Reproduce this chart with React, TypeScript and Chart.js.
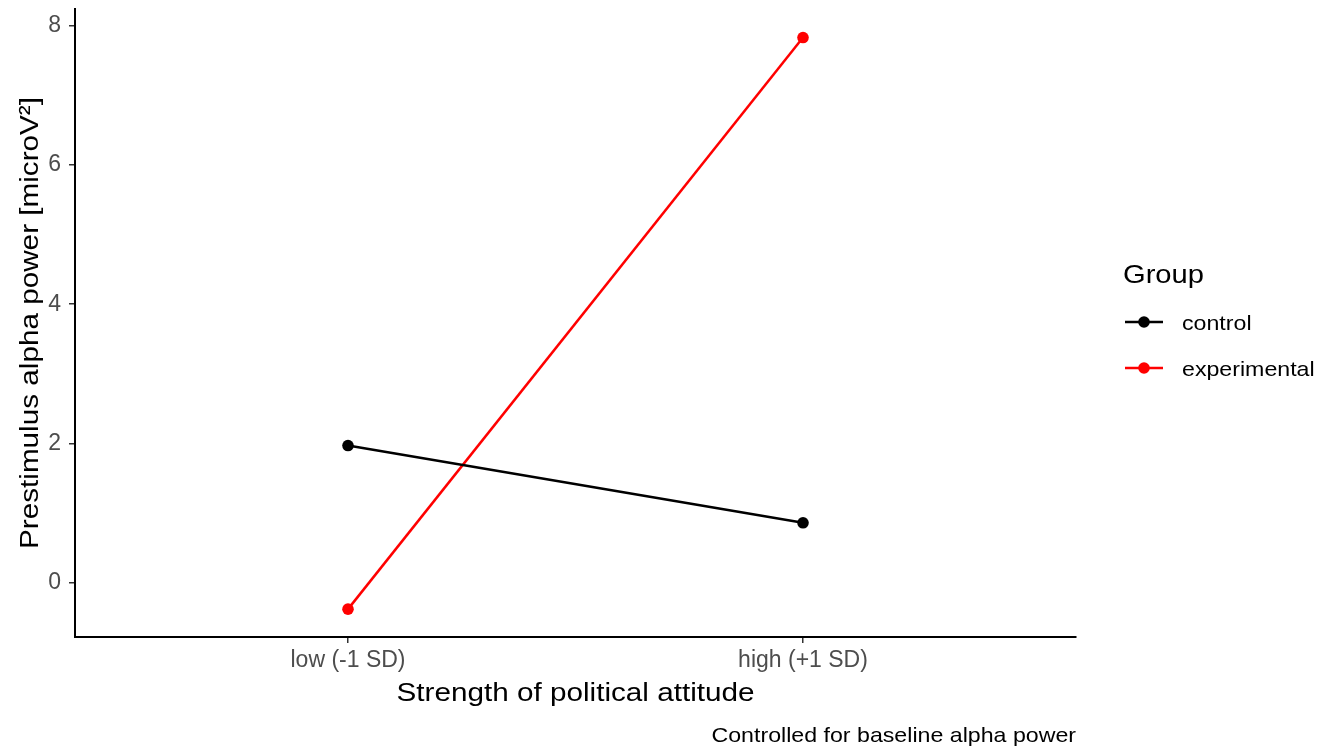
import React, { useEffect, useRef } from "react";
import { Chart, registerables } from "chart.js";

Chart.register(...registerables);

const categories = ["low (-1 SD)", "high (+1 SD)"];
const categoryPositions = [1, 2];
const controlValues = [1.97, 0.86];
const experimentalValues = [-0.38, 7.83];
const yTicks = [0, 2, 4, 6, 8];
const seriesNames = ["control", "experimental"];
const seriesColors = ["#000000", "#FF0000"];
const legendTitle = "Group";
const xTitle = "Strength of political attitude";
const yTitle = "Prestimulus alpha power [microV²]";
const caption = "Controlled for baseline alpha power";

const FONT = "'Liberation Sans', Arial, sans-serif";
const K = 1.12;

function drawText(
  ctx: CanvasRenderingContext2D,
  text: string,
  x: number,
  y: number,
  size: number,
  align: CanvasTextAlign,
  color: string,
  rotate = 0
) {
  ctx.save();
  ctx.translate(x, y);
  if (rotate) ctx.rotate(rotate);
  ctx.scale(K, 1);
  ctx.font = `${size}px ${FONT}`;
  ctx.fillStyle = color;
  ctx.textAlign = align;
  ctx.textBaseline = "alphabetic";
  ctx.fillText(text, 0, 0);
  ctx.restore();
}

const annotations = {
  id: "annotations",
  afterDraw(chart: any) {
    const ctx = chart.ctx as CanvasRenderingContext2D;
    const area = chart.chartArea;
    const cx = (area.left + area.right) / 2;
    const cy = (area.top + area.bottom) / 2;
    drawText(ctx, xTitle, cx, 701, 26.5, "center", "#000000");
    drawText(ctx, yTitle, 38, cy, 26.5, "center", "#000000", -Math.PI / 2);
    drawText(ctx, caption, area.right, 742, 20.7, "right", "#000000");
    drawText(ctx, legendTitle, 1123, 283, 26, "left", "#000000");
    const rows = [322, 368];
    const labelBase = [330, 376];
    seriesNames.forEach((name, i) => {
      const y = rows[i];
      ctx.save();
      ctx.strokeStyle = seriesColors[i];
      ctx.lineWidth = 2.5;
      ctx.beginPath();
      ctx.moveTo(1125, y);
      ctx.lineTo(1163, y);
      ctx.stroke();
      ctx.fillStyle = seriesColors[i];
      ctx.beginPath();
      ctx.arc(1144, y, 5.8, 0, Math.PI * 2);
      ctx.fill();
      ctx.restore();
      drawText(ctx, name, 1182, labelBase[i], 20.7, "left", "#000000");
    });
  },
};

export default function App() {
  const ref = useRef<HTMLCanvasElement | null>(null);

  useEffect(() => {
    if (!ref.current) return;
    const series = [controlValues, experimentalValues];
    const chart = new Chart(ref.current, {
      type: "scatter",
      data: {
        datasets: series.map((vals, i) => ({
          label: seriesNames[i],
          data: vals.map((v, j) => ({ x: categoryPositions[j], y: v })),
          showLine: true,
          borderColor: seriesColors[i],
          backgroundColor: seriesColors[i],
          borderWidth: 2.5,
          pointRadius: 5.8,
          pointBorderWidth: 0,
          pointHoverRadius: 5.8,
        })),
      },
      plugins: [annotations],
      options: {
        animation: false,
        responsive: false,
        devicePixelRatio: 1,
        layout: { padding: { top: 9, right: 253, left: 0, bottom: 0 } },
        plugins: {
          legend: { display: false },
          tooltip: { enabled: false },
        },
        scales: {
          x: {
            type: "linear",
            min: 0.4,
            max: 2.6,
            afterBuildTicks: (scale: any) => {
              scale.ticks = categoryPositions.map((v) => ({ value: v }));
            },
            afterFit: (scale: any) => {
              scale.height = 109;
              scale.paddingLeft = 0;
              scale.paddingRight = 0;
            },
            grid: {
              display: true,
              drawOnChartArea: false,
              drawTicks: true,
              tickLength: 6,
              color: "#333333",
              lineWidth: 1.5,
            },
            border: { display: true, color: "#000000", width: 2 },
            ticks: {
              color: "#4D4D4D",
              font: { family: FONT, size: 23 },
              padding: 4,
              maxRotation: 0,
              autoSkip: false,
              callback: (value: any) => {
                const idx = categoryPositions.indexOf(Number(value));
                return idx >= 0 ? categories[idx] : "";
              },
            },
          },
          y: {
            type: "linear",
            min: -0.78,
            max: 8.24,
            afterBuildTicks: (scale: any) => {
              scale.ticks = yTicks.map((v) => ({ value: v }));
            },
            afterFit: (scale: any) => {
              scale.width = 75;
              scale.paddingTop = 0;
              scale.paddingBottom = 0;
            },
            grid: {
              display: true,
              drawOnChartArea: false,
              drawTicks: true,
              tickLength: 6,
              color: "#333333",
              lineWidth: 1.5,
            },
            border: { display: true, color: "#000000", width: 2 },
            ticks: {
              color: "#4D4D4D",
              font: { family: FONT, size: 23 },
              padding: 8,
              callback: (value: any) => String(value),
            },
          },
        },
      } as any,
    });
    return () => chart.destroy();
  }, []);

  return (
    <div
      style={{
        position: "absolute",
        left: 0,
        top: 0,
        width: 1329,
        height: 746,
        background: "#ffffff",
      }}
    >
      <canvas ref={ref} width={1329} height={746} style={{ display: "block" }} />
    </div>
  );
}
